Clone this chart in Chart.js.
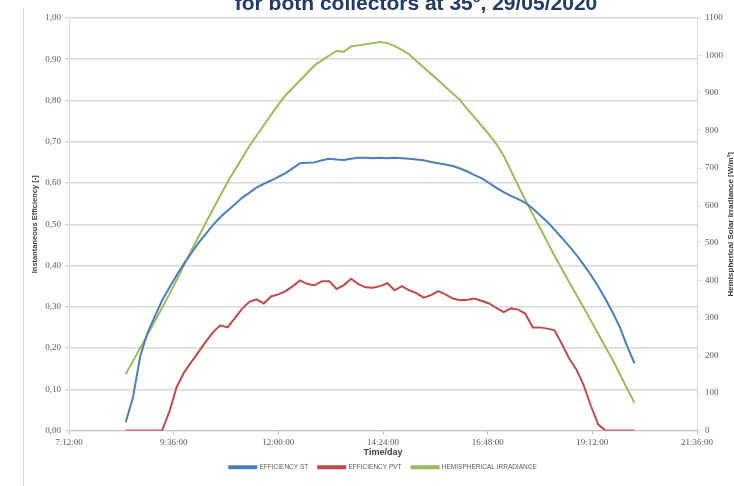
<!DOCTYPE html>
<html>
<head>
<meta charset="utf-8">
<script src="https://cdn.jsdelivr.net/npm/chart.js@4.4.1/dist/chart.umd.min.js"></script>
<style>
  html, body { margin: 0; padding: 0; background: #ffffff; }
  #wrap { position: relative; width: 734px; height: 486px; }
</style>
</head>
<body>
<div id="wrap"><canvas id="chart" width="734" height="486"></canvas></div>
<script>
// Logged time of day (every 10 minutes)
const times = [
  '8:30','8:40','8:50','9:00','9:10','9:20','9:30','9:40','9:50','10:00',
  '10:10','10:20','10:30','10:40','10:50','11:00','11:10','11:20','11:30','11:40',
  '11:50','12:00','12:10','12:20','12:30','12:40','12:50','13:00','13:10','13:20',
  '13:30','13:40','13:50','14:00','14:10','14:20','14:30','14:40','14:50','15:00',
  '15:10','15:20','15:30','15:40','15:50','16:00','16:10','16:20','16:30','16:40',
  '16:50','17:00','17:10','17:20','17:30','17:40','17:50','18:00','18:10','18:20',
  '18:30','18:40','18:50','19:00','19:10','19:20','19:30','19:40','19:50','20:00',
  '20:10'
];

// Instantaneous efficiency of the solar thermal collector [-]
const efficiencyST = [
  0.02, 0.08, 0.18, 0.237, 0.276, 0.315, 0.346, 0.376, 0.404, 0.429,
  0.454, 0.476, 0.498, 0.517, 0.533, 0.548, 0.564, 0.576, 0.589, 0.598,
  0.606, 0.615, 0.624, 0.636, 0.648, 0.649, 0.650, 0.655, 0.659, 0.657,
  0.656, 0.659, 0.661, 0.661, 0.660, 0.661, 0.660, 0.661, 0.660, 0.659,
  0.657, 0.655, 0.651, 0.648, 0.645, 0.641, 0.635, 0.628, 0.619, 0.611,
  0.600, 0.588, 0.578, 0.569, 0.561, 0.552, 0.538, 0.522, 0.506, 0.487,
  0.467, 0.447, 0.426, 0.402, 0.377, 0.349, 0.319, 0.286, 0.250, 0.204,
  0.163
];

// Instantaneous thermal efficiency of the PVT collector [-]
const efficiencyPVT = [
  0, 0, 0, 0, 0, 0, 0.045, 0.105, 0.14, 0.165,
  0.19, 0.215, 0.238, 0.255, 0.25, 0.272, 0.295, 0.312, 0.318, 0.308,
  0.325, 0.330, 0.338, 0.350, 0.364, 0.355, 0.352, 0.362, 0.362, 0.343,
  0.352, 0.368, 0.355, 0.347, 0.346, 0.350, 0.357, 0.340, 0.350, 0.340,
  0.333, 0.322, 0.328, 0.338, 0.330, 0.320, 0.316, 0.317, 0.320, 0.314,
  0.308, 0.297, 0.287, 0.296, 0.293, 0.283, 0.250, 0.250, 0.247, 0.243,
  0.210, 0.175, 0.148, 0.110, 0.060, 0.015, 0, 0, 0, 0,
  0
];

// Hemispherical solar irradiance on the collector plane [W/m2]
const irradiance = [
  150, 185, 220, 255, 291, 327, 363, 401, 440, 479,
  516, 553, 590, 626, 662, 694, 726, 758, 786, 814,
  842, 869, 894, 914, 934, 954, 974, 987, 1000, 1012,
  1010, 1024, 1027, 1030, 1033, 1036, 1033, 1025, 1015, 1003,
  985, 968, 951, 934, 916, 899, 881, 857, 835, 812,
  789, 764, 733, 693, 653, 614, 577, 540, 503, 466,
  431, 396, 362, 328, 293, 258, 223, 188, 150, 111,
  74
];

// Time axis labels (every 0.1 day from 0.3 to 0.9)
const timeTicks = ['7:12:00', '9:36:00', '12:00:00', '14:24:00', '16:48:00', '19:12:00', '21:36:00'];

const dayFraction = t => {
  const [h, m] = t.split(':').map(Number);
  return (h * 60 + m) / 1440;
};
const pairs = values => times.map((t, i) => ({ x: dayFraction(t), y: values[i] }));

const TICK_FONT = { family: 'Liberation Serif', size: 9 };
const TICK_COLOR = '#595959';

const decorations = {
  id: 'decorations',
  beforeDraw(chart) {
    const ctx = chart.ctx;
    ctx.save();
    ctx.fillStyle = '#ffffff';
    ctx.fillRect(0, 0, chart.width, chart.height);
    // chart frame
    ctx.strokeStyle = '#d9d9d9';
    ctx.lineWidth = 1;
    ctx.beginPath();
    ctx.moveTo(23.5, 8);
    ctx.lineTo(23.5, chart.height);
    ctx.stroke();
    ctx.restore();
  },
  afterDraw(chart) {
    const ctx = chart.ctx;
    const area = chart.chartArea;
    ctx.save();
    // chart title (second line)
    ctx.fillStyle = '#203a63';
    ctx.font = 'bold 21px "Liberation Sans"';
    ctx.textAlign = 'center';
    ctx.textBaseline = 'alphabetic';
    ctx.fillText('for both collectors at 35º, 29/05/2020', 416, 10);
    // secondary axis title
    ctx.translate(731, (area.top + area.bottom) / 2);
    ctx.rotate(-Math.PI / 2);
    ctx.fillStyle = '#404040';
    ctx.font = 'bold 8px "Liberation Sans"';
    ctx.textBaseline = 'middle';
    ctx.fillText('Hemispherical Solar Irradiance [W/m²]', 0, 0);
    ctx.restore();
  }
};

new Chart(document.getElementById('chart'), {
  type: 'line',
  data: {
    datasets: [
      {
        label: 'EFFICIENCY ST',
        data: pairs(efficiencyST),
        borderColor: '#4a7ebb',
        backgroundColor: '#4a7ebb',
        borderWidth: 2,
        pointRadius: 0,
        yAxisID: 'y'
      },
      {
        label: 'EFFICIENCY PVT',
        data: pairs(efficiencyPVT),
        borderColor: '#be4b48',
        backgroundColor: '#be4b48',
        borderWidth: 2,
        pointRadius: 0,
        yAxisID: 'y'
      },
      {
        label: 'HEMISPHERICAL IRRADIANCE',
        data: pairs(irradiance),
        borderColor: '#9bbb59',
        backgroundColor: '#9bbb59',
        borderWidth: 2,
        pointRadius: 0,
        yAxisID: 'y2'
      }
    ]
  },
  options: {
    responsive: false,
    animation: false,
    devicePixelRatio: 1,
    layout: { padding: { top: 18, left: 0, right: 0, bottom: 5.5 } },
    plugins: {
      title: { display: false },
      tooltip: { enabled: false },
      legend: {
        position: 'bottom',
        fullSize: false,
        labels: {
          boxWidth: 27,
          boxHeight: 2,
          padding: 10,
          color: '#595959',
          font: { family: 'Liberation Sans', size: 6.5 }
        }
      }
    },
    scales: {
      x: {
        type: 'linear',
        min: 0.3,
        max: 0.9,
        afterFit: s => { s.height = 23.5; },
        afterBuildTicks: s => { s.ticks = timeTicks.map((_, i) => ({ value: 0.3 + i * 0.1 })); },
        ticks: {
          callback: (v, i) => timeTicks[i],
          font: TICK_FONT,
          color: TICK_COLOR,
          padding: 3,
          maxRotation: 0,
          autoSkip: false
        },
        grid: { drawOnChartArea: false, drawTicks: true, tickLength: 4, color: '#bfbfbf' },
        border: { color: '#bfbfbf', width: 1 },
        title: {
          display: true,
          text: 'Time/day',
          color: '#404040',
          font: { family: 'Liberation Sans', size: 9, weight: 'bold' },
          padding: { top: 0, bottom: -4 }
        }
      },
      y: {
        position: 'left',
        min: 0,
        max: 1,
        afterFit: s => { s.width = 69; },
        ticks: {
          stepSize: 0.1,
          callback: v => v.toFixed(2).replace('.', ','),
          font: TICK_FONT,
          color: TICK_COLOR,
          padding: 4
        },
        grid: { color: '#d9d9d9', lineWidth: 1.5, tickLength: 4 },
        border: { color: '#d9d9d9', width: 1 },
        title: {
          display: true,
          text: 'Instantaneous Efficiency [-]',
          color: '#404040',
          font: { family: 'Liberation Sans', size: 7.5, weight: 'bold' },
          padding: { top: 30.5, bottom: 0 }
        }
      },
      y2: {
        position: 'right',
        min: 0,
        max: 1100,
        afterFit: s => { s.width = 37; },
        ticks: {
          stepSize: 100,
          callback: v => String(v),
          font: TICK_FONT,
          color: TICK_COLOR,
          padding: 4
        },
        grid: { drawOnChartArea: false, color: '#d9d9d9', tickLength: 4 },
        border: { color: '#d9d9d9', width: 1 }
      }
    }
  },
  plugins: [decorations]
});
</script>
</body>
</html>
